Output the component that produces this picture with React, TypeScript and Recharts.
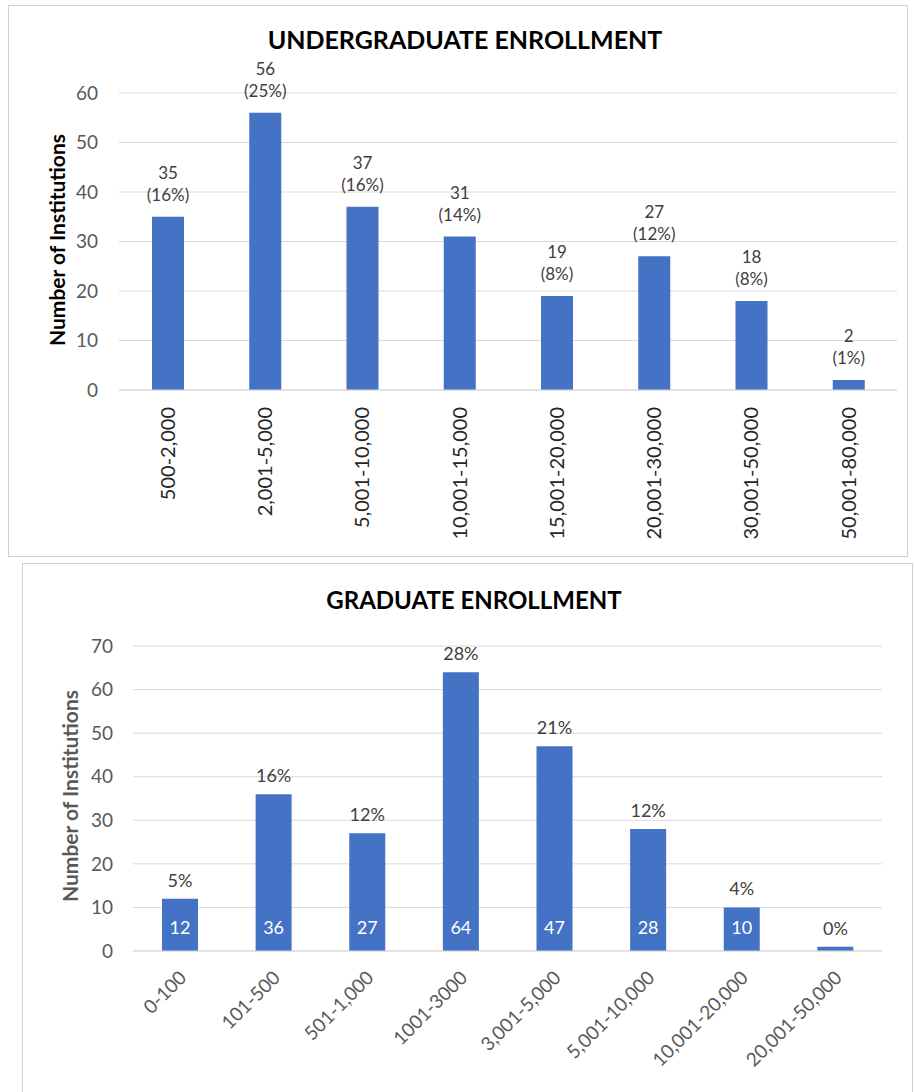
import { BarChart, Bar, XAxis, YAxis, CartesianGrid, LabelList } from "recharts"

const FONT = "Lato, 'Open Sans', sans-serif"
const BLUE = "#4472c4"

// undergraduate panel
const ugCategories = [
  "500-2,000",
  "2,001-5,000",
  "5,001-10,000",
  "10,001-15,000",
  "15,001-20,000",
  "20,001-30,000",
  "30,001-50,000",
  "50,001-80,000",
]
const ugCounts = [35, 56, 37, 31, 19, 27, 18, 2]
const ugShares = ["16%", "25%", "16%", "14%", "8%", "12%", "8%", "1%"]
const ugTicks = [0, 10, 20, 30, 40, 50, 60]

// graduate panel
const gradCategories = [
  "0-100",
  "101-500",
  "501-1,000",
  "1001-3000",
  "3,001-5,000",
  "5,001-10,000",
  "10,001-20,000",
  "20,001-50,000",
]
const gradCounts = [12, 36, 27, 64, 47, 28, 10, 1]
const gradShares = ["5%", "16%", "12%", "28%", "21%", "12%", "4%", "0%"]
const gradTicks = [0, 10, 20, 30, 40, 50, 60, 70]

const ugData = ugCategories.map((name, i) => ({ name, count: ugCounts[i], share: ugShares[i] }))
const gradData = gradCategories.map((name, i) => ({ name, count: gradCounts[i], share: gradShares[i] }))

// eslint-disable-next-line @typescript-eslint/no-explicit-any
function VerticalTick({ x, y, payload }: any) {
  return (
    <g transform={`translate(${x},${y + 2})`}>
      <text
        transform="rotate(-90)"
        textAnchor="end"
        dy="0.36em"
        fontSize={20}
        fill="#262626"
        fontFamily={FONT}
      >
        {payload.value}
      </text>
    </g>
  )
}

// eslint-disable-next-line @typescript-eslint/no-explicit-any
function SlantTick({ x, y, payload }: any) {
  return (
    <g transform={`translate(${x + 3},${y + 13})`}>
      <text
        transform="rotate(-45)"
        textAnchor="end"
        dy="0.36em"
        fontSize={19}
        fill="#595959"
        fontFamily={FONT}
      >
        {payload.value}
      </text>
    </g>
  )
}

// eslint-disable-next-line @typescript-eslint/no-explicit-any
function CountShareLabel({ x, y, width, index }: any) {
  const cx = x + width / 2
  return (
    <text textAnchor="middle" fontSize={17} fill="#404040" fontFamily={FONT}>
      <tspan x={cx} y={y - 38}>{ugCounts[index]}</tspan>
      <tspan x={cx} y={y - 16}>({ugShares[index]})</tspan>
    </text>
  )
}

// eslint-disable-next-line @typescript-eslint/no-explicit-any
function ShareLabel({ x, y, width, index }: any) {
  return (
    <text x={x + width / 2} y={y - 12} textAnchor="middle" fontSize={18} fill="#404040" fontFamily={FONT}>
      {gradShares[index]}
    </text>
  )
}

// eslint-disable-next-line @typescript-eslint/no-explicit-any
function InsideCount({ x, y, width, height, value }: any) {
  if (value < 5) return null
  return (
    <text x={x + width / 2} y={y + height - 17} textAnchor="middle" fontSize={18} fill="#ffffff" fontFamily={FONT}>
      {value}
    </text>
  )
}

const panel = (left: number, top: number, width: number, height: number) => ({
  position: "absolute" as const,
  left,
  top,
  width,
  height,
  border: "1px solid #d0d0d0",
  boxSizing: "border-box" as const,
})

export default function App() {
  return (
    <div style={{ position: "absolute", left: 0, top: 0, width: 914, height: 1092, background: "#fff", overflow: "hidden", fontFamily: FONT }}>
      <div style={panel(8, 5, 900, 552)} />
      <div style={panel(22, 563, 891, 560)} />

      <div style={{ position: "absolute", left: 0, top: 0, width: 914, height: 553 }}>
        <BarChart
          width={914}
          height={553}
          data={ugData}
          margin={{ top: 93, right: 17, left: 0, bottom: 0 }}
          barSize={32}
        >
          <CartesianGrid stroke="#d9d9d9" vertical={false} />
          <XAxis
            dataKey="name"
            interval={0}
            tickLine={false}
            axisLine={{ stroke: "#d9d9d9" }}
            height={163}
            tickMargin={9}
            tick={<VerticalTick />}
          />
          <YAxis
            domain={[0, 60]}
            ticks={ugTicks}
            width={119}
            tickLine={false}
            axisLine={false}
            tickMargin={15}
            tick={{ fontSize: 19, fill: "#595959", fontFamily: FONT }}
          />
          <Bar dataKey="count" fill={BLUE} isAnimationActive={false}>
            <LabelList dataKey="count" content={<CountShareLabel />} />
          </Bar>
        </BarChart>
      </div>
      <div style={{ position: "absolute", left: 0, top: 27, width: 930, textAlign: "center", fontSize: 25, lineHeight: "25px", fontWeight: 700, color: "#000" }}>
        UNDERGRADUATE ENROLLMENT
      </div>
      <div
        style={{
          position: "absolute",
          left: 56,
          top: 240,
          transform: "translate(-50%, -50%) rotate(-90deg)",
          whiteSpace: "nowrap",
          fontSize: 21,
          fontWeight: 700,
          color: "#000",
        }}
      >
        Number of Institutions
      </div>

      <div style={{ position: "absolute", left: 0, top: 560, width: 914, height: 532 }}>
        <BarChart
          width={914}
          height={532}
          data={gradData}
          margin={{ top: 86, right: 32, left: 0, bottom: 0 }}
          barSize={36}
        >
          <CartesianGrid stroke="#d9d9d9" vertical={false} />
          <XAxis
            dataKey="name"
            interval={0}
            tickLine={false}
            axisLine={{ stroke: "#d9d9d9" }}
            height={141}
            tickMargin={4}
            tick={<SlantTick />}
          />
          <YAxis
            domain={[0, 70]}
            ticks={gradTicks}
            width={133}
            tickLine={false}
            axisLine={false}
            tickMargin={14}
            tick={{ fontSize: 19, fill: "#595959", fontFamily: FONT }}
          />
          <Bar dataKey="count" fill={BLUE} isAnimationActive={false}>
            <LabelList dataKey="count" content={<ShareLabel />} />
            <LabelList dataKey="count" content={<InsideCount />} />
          </Bar>
        </BarChart>
      </div>
      <div style={{ position: "absolute", left: 0, top: 588, width: 948, textAlign: "center", fontSize: 24, lineHeight: "24px", fontWeight: 700, color: "#000" }}>
        GRADUATE ENROLLMENT
      </div>
      <div
        style={{
          position: "absolute",
          left: 69,
          top: 796,
          transform: "translate(-50%, -50%) rotate(-90deg)",
          whiteSpace: "nowrap",
          fontSize: 21,
          fontWeight: 700,
          color: "#595959",
        }}
      >
        Number of Institutions
      </div>
    </div>
  )
}
